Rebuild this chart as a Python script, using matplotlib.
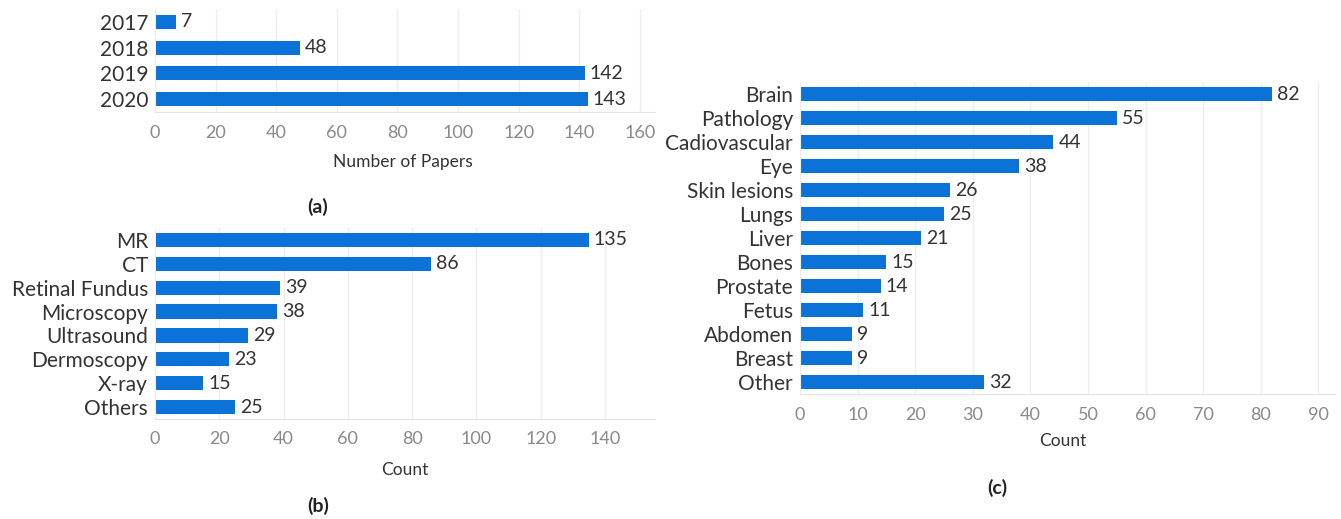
import matplotlib
matplotlib.use('Agg')
import matplotlib.pyplot as plt

# panel (a): papers per year
years = ['2017', '2018', '2019', '2020']
papers = [7, 48, 142, 143]

# panel (b): imaging modality
modalities = ['MR', 'CT', 'Retinal Fundus', 'Microscopy', 'Ultrasound', 'Dermoscopy', 'X-ray', 'Others']
modality_counts = [135, 86, 39, 38, 29, 23, 15, 25]

# panel (c): anatomy
organs = ['Brain', 'Pathology', 'Cadiovascular', 'Eye', 'Skin lesions', 'Lungs', 'Liver',
          'Bones', 'Prostate', 'Fetus', 'Abdomen', 'Breast', 'Other']
organ_counts = [82, 55, 44, 38, 26, 25, 21, 15, 14, 11, 9, 9, 32]

plt.rcParams['font.family'] = ['Lato', 'DejaVu Sans']

W, H = 1341, 519
fig = plt.figure(figsize=(W / 100, H / 100), dpi=100)
blue = '#0B72D7'


def px_axes(left, right, top, bottom):
    return fig.add_axes([left / W, 1 - bottom / H, (right - left) / W, (bottom - top) / H])


def hbar(ax, labels, values, xmax, ticks, bar_h, pad):
    n = len(labels)
    ax.barh(range(n), values, height=bar_h, color=blue, zorder=2)
    for i, v in enumerate(values):
        ax.text(v + pad, i, str(v), va='center', ha='left', fontsize=14, color='#333333')
    ax.set_ylim(n - 0.5, -0.5)
    ax.set_xlim(0, xmax)
    ax.set_yticks(range(n))
    ax.set_yticklabels(labels, fontsize=15, color='#333333')
    ax.set_xticks(ticks)
    ax.set_xticklabels([str(t) for t in ticks], fontsize=13, color='#8a8a8a')
    ax.tick_params(axis='both', length=0)
    ax.tick_params(axis='x', pad=9)
    ax.tick_params(axis='y', pad=5)
    ax.grid(axis='x', color='#eeeeee', linewidth=1, zorder=0)
    for s in ['top', 'right']:
        ax.spines[s].set_visible(False)
    ax.spines['bottom'].set_color('#e4e4e4')
    ax.spines['left'].set_color('#eeeeee')


ax_a = px_axes(155, 655, 9, 112)
hbar(ax_a, years, papers, 165, range(0, 161, 20), 0.54, 1.5)

ax_b = px_axes(155, 655, 228, 419)
hbar(ax_b, modalities, modality_counts, 155.6, range(0, 141, 20), 0.6, 1.5)

ax_c = px_axes(800, 1335, 82, 394)
hbar(ax_c, organs, organ_counts, 92.9, range(0, 91, 10), 0.62, 0.9)


def ftext(x, y, s, **kw):
    fig.text(x / W, 1 - y / H, s, ha='center', va='center', **kw)


ftext(403, 162, 'Number of Papers', fontsize=12.5, color='#333333')
ftext(405, 470, 'Count', fontsize=12.5, color='#333333')
ftext(1063, 441, 'Count', fontsize=12.5, color='#333333')
ftext(318, 207, '(a)', fontsize=14, fontweight='bold', color='#222222')
ftext(318, 506, '(b)', fontsize=14, fontweight='bold', color='#222222')
ftext(997, 488, '(c)', fontsize=14, fontweight='bold', color='#222222')

fig.savefig('out.png', dpi=100)
